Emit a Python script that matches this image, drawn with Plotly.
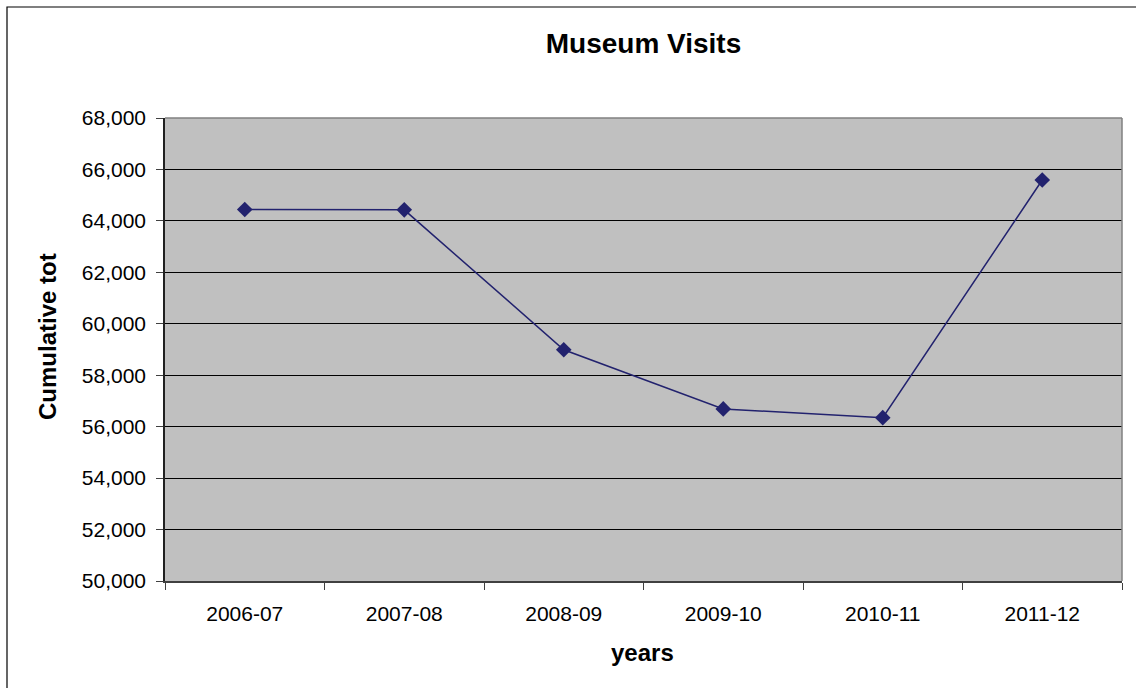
import plotly.graph_objects as go

years = ['2006-07', '2007-08', '2008-09', '2009-10', '2010-11', '2011-12']
visits = [64440, 64430, 58990, 56690, 56350, 65590]
y_ticks = list(range(50000, 68001, 2000))

navy = '#22226e'
font_family = 'Liberation Sans, Arial, sans-serif'

fig = go.Figure()
fig.add_trace(go.Scatter(
    x=years, y=visits, mode='lines+markers',
    line=dict(color=navy, width=1.5),
    marker=dict(symbol='diamond', size=12, color=navy),
    showlegend=False,
))

layout = go.Layout(
    width=1136, height=688,
    margin=dict(l=165, r=14, t=118, b=107),
    paper_bgcolor='white', plot_bgcolor='#c0c0c0',
    font=dict(family=font_family, size=21, color='black'),
    title=dict(text='<b>Museum Visits</b>', x=0.5, xref='paper', xanchor='center',
               y=1 - 43 / 688, yanchor='middle', font=dict(size=28)),
    xaxis=dict(type='category', range=[-0.5, len(years) - 0.5], showgrid=False, showline=True,
               linecolor='#404040', linewidth=1.5,
               ticks='outside', tickson='boundaries', ticklen=7, tickcolor='#404040',
               ticklabelstandoff=13, zeroline=False),
    yaxis=dict(range=[50000, 68000], tickvals=y_ticks, tickformat=',', showgrid=True,
               gridcolor='black', gridwidth=1, showline=True, linecolor='#202020', linewidth=1.5,
               ticks='outside', ticklen=7, tickcolor='#404040', ticklabelstandoff=6, zeroline=False),
)
fig.update_layout(layout)

# plot area frame (top / right) and outer chart border
fig.add_shape(type='line', xref='paper', yref='paper', x0=0, x1=1, y0=1, y1=1,
              line=dict(color='#808080', width=1.5))
fig.add_shape(type='line', xref='paper', yref='paper', x0=1, x1=1, y0=0, y1=1,
              line=dict(color='#808080', width=1.5))
fig.add_shape(type='rect', xref='paper', yref='paper',
              x0=(7 - 165) / 957, x1=(1140 - 165) / 957,
              y0=(581 - 692) / 463, y1=(581 - 7) / 463,
              line=dict(color='black', width=1.2), fillcolor='rgba(0,0,0,0)', layer='below')

# axis titles
fig.add_annotation(text='<b>Cumulative tot</b>', xref='paper', yref='paper',
                   x=(47 - 165) / 957, y=(581 - 337) / 463, textangle=-90,
                   showarrow=False, xanchor='center', yanchor='middle', font=dict(size=24))
fig.add_annotation(text='<b>years</b>', xref='paper', yref='paper',
                   x=(642 - 165) / 957, y=(581 - 652) / 463,
                   showarrow=False, xanchor='center', yanchor='middle', font=dict(size=24))

# page has a default 8px body margin; drop it so the figure sits at the window origin
fig.write_html('out.html', config={'displayModeBar': False},
               post_script="document.body.style.margin='0';")
